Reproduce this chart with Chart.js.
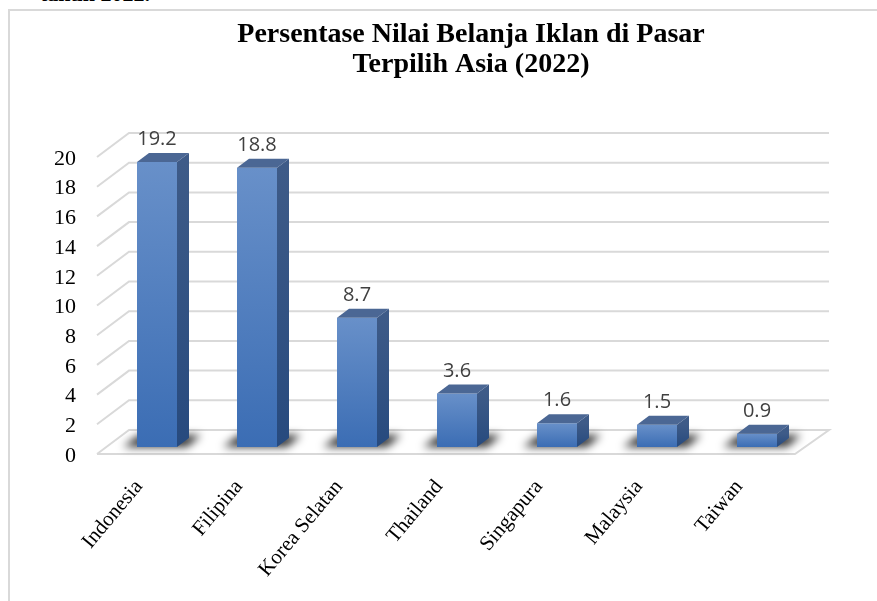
<!DOCTYPE html>
<html>
<head>
<meta charset="utf-8">
<script src="https://cdn.jsdelivr.net/npm/chart.js@4"></script>
<style>
  html, body { margin: 0; padding: 0; background: #fff; overflow: hidden; }
  #frame { position: absolute; left: 8px; top: 9px; width: 900px; height: 620px; border: 2px solid #d9d9d9; }
  #clipText { position: absolute; left: 40px; top: -19px; font: bold 22px "Liberation Serif", serif; color: #000; white-space: nowrap; }
  #chart { position: absolute; left: 0; top: 0; }
</style>
</head>
<body>
<div id="clipText">tahun 2022.</div>
<div id="frame"></div>
<canvas id="chart" width="877" height="601"></canvas>
<script>
// Data
const categories = ['Indonesia', 'Filipina', 'Korea Selatan', 'Thailand', 'Singapura', 'Malaysia', 'Taiwan'];
const values = [19.2, 18.8, 8.7, 3.6, 1.6, 1.5, 0.9];
const titleLines = ['Persentase Nilai Belanja Iklan di Pasar', 'Terpilih Asia (2022)'];
const yMax = 20;
const yStep = 2;

// 3D look
const depth = { dx: 12, dy: -9 };      // bar side/top faces
const floor = { front: 7, back: -17, frontLeft: -10, frontRight: -12, backShift: 22 };

// Front face gradient per bar
function frontFill(c) {
  const y = c.chart.scales.y;
  if (!y || c.raw == null) return '#4a7dc0';
  const top = y.getPixelForValue(c.raw);
  const bottom = y.getPixelForValue(0);
  if (!isFinite(top) || !isFinite(bottom) || top === bottom) return '#4a7dc0';
  const g = c.chart.ctx.createLinearGradient(0, top, 0, bottom);
  g.addColorStop(0, '#6890c9');
  g.addColorStop(1, '#3b6db4');
  return g;
}

// Back wall grid lines + floor + shadows (drawn under bars)
const wallPlugin = {
  id: 'wall',
  beforeDatasetsDraw(chart) {
    const { ctx, chartArea: a, scales: { y } } = chart;
    ctx.save();
    ctx.strokeStyle = '#d9d9d9';
    ctx.lineWidth = 2;
    y.ticks.forEach(t => {
      const p = y.getPixelForValue(t.value);
      ctx.beginPath();
      ctx.moveTo(a.left + floor.frontLeft, p + floor.front);
      ctx.lineTo(a.left + floor.backShift, p + floor.back);
      ctx.lineTo(a.right + floor.backShift, p + floor.back);
      if (t.value === 0) {
        ctx.lineTo(a.right + floor.frontRight, p + floor.front);
        ctx.lineTo(a.left + floor.frontLeft, p + floor.front);
      }
      ctx.stroke();
    });

    // shadows on floor
    const meta = chart.getDatasetMeta(0);
    ctx.filter = 'blur(4px)';
    ctx.fillStyle = 'rgba(0,0,0,0.8)';
    meta.data.forEach(bar => {
      const l = bar.x - bar.width / 2, r = bar.x + bar.width / 2, b = bar.base;
      ctx.beginPath();
      ctx.moveTo(l - 14, b);
      ctx.lineTo(r + 10, b);
      ctx.lineTo(r + 24, b - 12);
      ctx.lineTo(l + 2, b - 12);
      ctx.closePath();
      ctx.fill();
    });
    ctx.restore();
  },
  afterDatasetsDraw(chart) {
    const { ctx } = chart;
    const meta = chart.getDatasetMeta(0);
    ctx.save();
    meta.data.forEach((bar, i) => {
      const l = bar.x - bar.width / 2, r = bar.x + bar.width / 2;
      const top = bar.y, b = bar.base;
      // side face
      const g = ctx.createLinearGradient(0, top, 0, b);
      g.addColorStop(0, '#3e5b88');
      g.addColorStop(1, '#274a7e');
      ctx.fillStyle = g;
      ctx.beginPath();
      ctx.moveTo(r, top);
      ctx.lineTo(r + depth.dx, top + depth.dy);
      ctx.lineTo(r + depth.dx, b + depth.dy);
      ctx.lineTo(r, b);
      ctx.closePath();
      ctx.fill();
      // top face
      ctx.fillStyle = '#4b6794';
      ctx.beginPath();
      ctx.moveTo(l, top);
      ctx.lineTo(l + depth.dx, top + depth.dy);
      ctx.lineTo(r + depth.dx, top + depth.dy);
      ctx.lineTo(r, top);
      ctx.closePath();
      ctx.fill();
      // value label
      ctx.fillStyle = '#404040';
      ctx.font = '20px "Open Sans", sans-serif';
      ctx.textAlign = 'center';
      ctx.textBaseline = 'alphabetic';
      ctx.fillText(String(values[i]), bar.x, top - 17);
    });
    ctx.restore();
  },
  afterDraw(chart) {
    const { ctx } = chart;
    ctx.save();
    ctx.fillStyle = '#000';
    ctx.font = 'bold 28px "Liberation Serif", serif';
    ctx.textAlign = 'center';
    ctx.textBaseline = 'alphabetic';
    ctx.fillText(titleLines[0], 471, 42);
    ctx.fillText(titleLines[1], 471, 72);
    ctx.restore();
  }
};

new Chart(document.getElementById('chart'), {
  type: 'bar',
  data: {
    labels: categories,
    datasets: [{
      data: values,
      backgroundColor: frontFill,
      borderWidth: 0,
      categoryPercentage: 0.4,
      barPercentage: 1
    }]
  },
  options: {
    responsive: false,
    animation: false,
    devicePixelRatio: 1,
    layout: { padding: { top: 150, right: 70, left: 0, bottom: 0 } },
    plugins: {
      legend: { display: false },
      tooltip: { enabled: false },
      title: { display: false }
    },
    scales: {
      x: {
        grid: { display: false, drawTicks: false },
        border: { display: false },
        afterFit: s => { s.height = 154; },
        ticks: {
          autoSkip: false,
          maxRotation: 50,
          minRotation: 50,
          labelOffset: -18,
          padding: 28,
          color: '#000',
          font: { family: '"Liberation Serif", serif', size: 21 }
        }
      },
      y: {
        min: 0,
        max: yMax,
        grid: { display: false, drawTicks: false },
        border: { display: false },
        afterFit: s => { s.width = 107; },
        ticks: {
          stepSize: yStep,
          padding: 31,
          labelOffset: 9,
          color: '#000',
          font: { family: '"Liberation Serif", serif', size: 22 }
        }
      }
    }
  },
  plugins: [wallPlugin]
});
</script>
</body>
</html>
